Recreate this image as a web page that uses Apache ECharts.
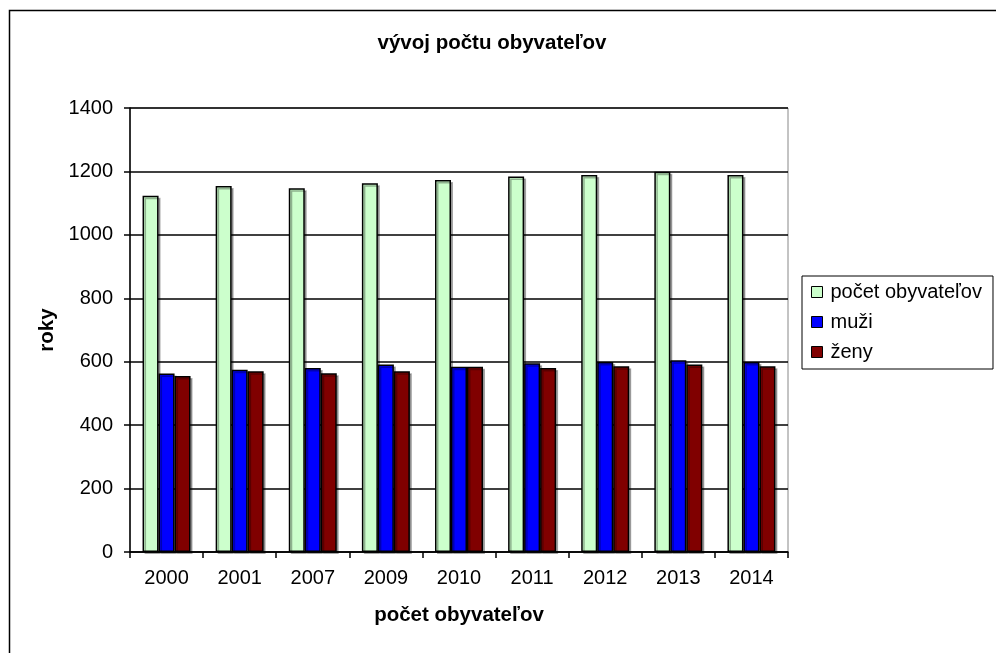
<!DOCTYPE html>
<html><head><meta charset="utf-8">
<script src="https://cdn.jsdelivr.net/npm/echarts@6/dist/echarts.min.js"></script>
<style>html,body{margin:0;padding:0;background:#fff}#c{width:996px;height:653px}</style>
</head><body><div id="c"></div>
<script>
const categories = ['2000','2001','2007','2009','2010','2011','2012','2013','2014'];
const pocet = [1123,1154,1147,1163,1173,1184,1189,1199,1189];
const muzi = [563,575,580,591,584,595,599,605,599];
const zeny = [555,570,564,570,584,580,586,591,586];
const yTicks = [0,200,400,600,800,1000,1200,1400];

const chart = echarts.init(document.getElementById('c'), null, {renderer:'canvas'});
const font = 'Liberation Sans, Arial, sans-serif';
const barStyle = (c)=>({color:c, borderColor:'#000', borderWidth:1.5, shadowColor:'rgba(0,0,0,0.3)', shadowOffsetX:2, shadowOffsetY:2, shadowBlur:0});
chart.setOption({
  animation:false,
  textStyle:{fontFamily:font},
  graphic:[{type:'rect', shape:{x:9.5,y:10.5,width:1000,height:700}, style:{fill:'none', stroke:'#000', lineWidth:1.5}, z:-1}],
  title:{text:'vývoj počtu obyvateľov', left:487, textAlign:'center', top:28, textStyle:{fontSize:20.5, fontWeight:'bold', color:'#000', fontFamily:font}},
  legend:{
    orient:'vertical', left:802, top:276, itemWidth:11, itemHeight:11, itemGap:10,
    padding:[6,11,7,9], borderColor:'#000', borderWidth:1, icon:'rect',
    textStyle:{fontSize:20, lineHeight:20, color:'#000', fontFamily:font, padding:[0,0,0,3]},
    data:[{name:'počet obyvateľov', itemStyle:{borderColor:'#000',borderWidth:1}},{name:'muži', itemStyle:{borderColor:'#000',borderWidth:1}},{name:'ženy', itemStyle:{borderColor:'#000',borderWidth:1}}]
  },
  grid:{left:130, right:208, top:108, bottom:101, show:true, borderColor:'#888', borderWidth:1, backgroundColor:'#fff'},
  xAxis:{type:'category', data:categories, name:'počet obyvateľov', nameLocation:'middle', nameGap:53,
    nameTextStyle:{fontSize:20.5, fontWeight:'bold', color:'#000', fontFamily:font},
    axisLine:{lineStyle:{color:'#000', width:1.5}}, axisTick:{show:true, length:6, lineStyle:{color:'#000', width:1.5}},
    axisLabel:{fontSize:20, color:'#000', margin:16, fontFamily:font}},
  yAxis:{type:'value', min:0, max:1400, interval:200, name:'roky', nameLocation:'middle', nameGap:70, nameRotate:90,
    nameTextStyle:{fontSize:20.5, fontWeight:'bold', color:'#000', fontFamily:font},
    axisLine:{show:true, lineStyle:{color:'#000', width:1.5}}, axisTick:{show:true, length:6, lineStyle:{color:'#000', width:1.5}},
    splitLine:{show:true, lineStyle:{color:'#000', width:1.5}},
    axisLabel:{fontSize:20, color:'#000', margin:17, fontFamily:font,
      formatter:(v)=> yTicks.includes(v) ? String(v) : ''}},
  series:[
    {name:'počet obyvateľov', type:'bar', data:pocet, barWidth:16, barGap:'0%', itemStyle:barStyle('#ccffcc')},
    {name:'muži', type:'bar', data:muzi, barWidth:16, barGap:'0%', itemStyle:barStyle('#0000ff')},
    {name:'ženy', type:'bar', data:zeny, barWidth:16, barGap:'0%', itemStyle:barStyle('#800000')}
  ]
});
</script></body></html>
